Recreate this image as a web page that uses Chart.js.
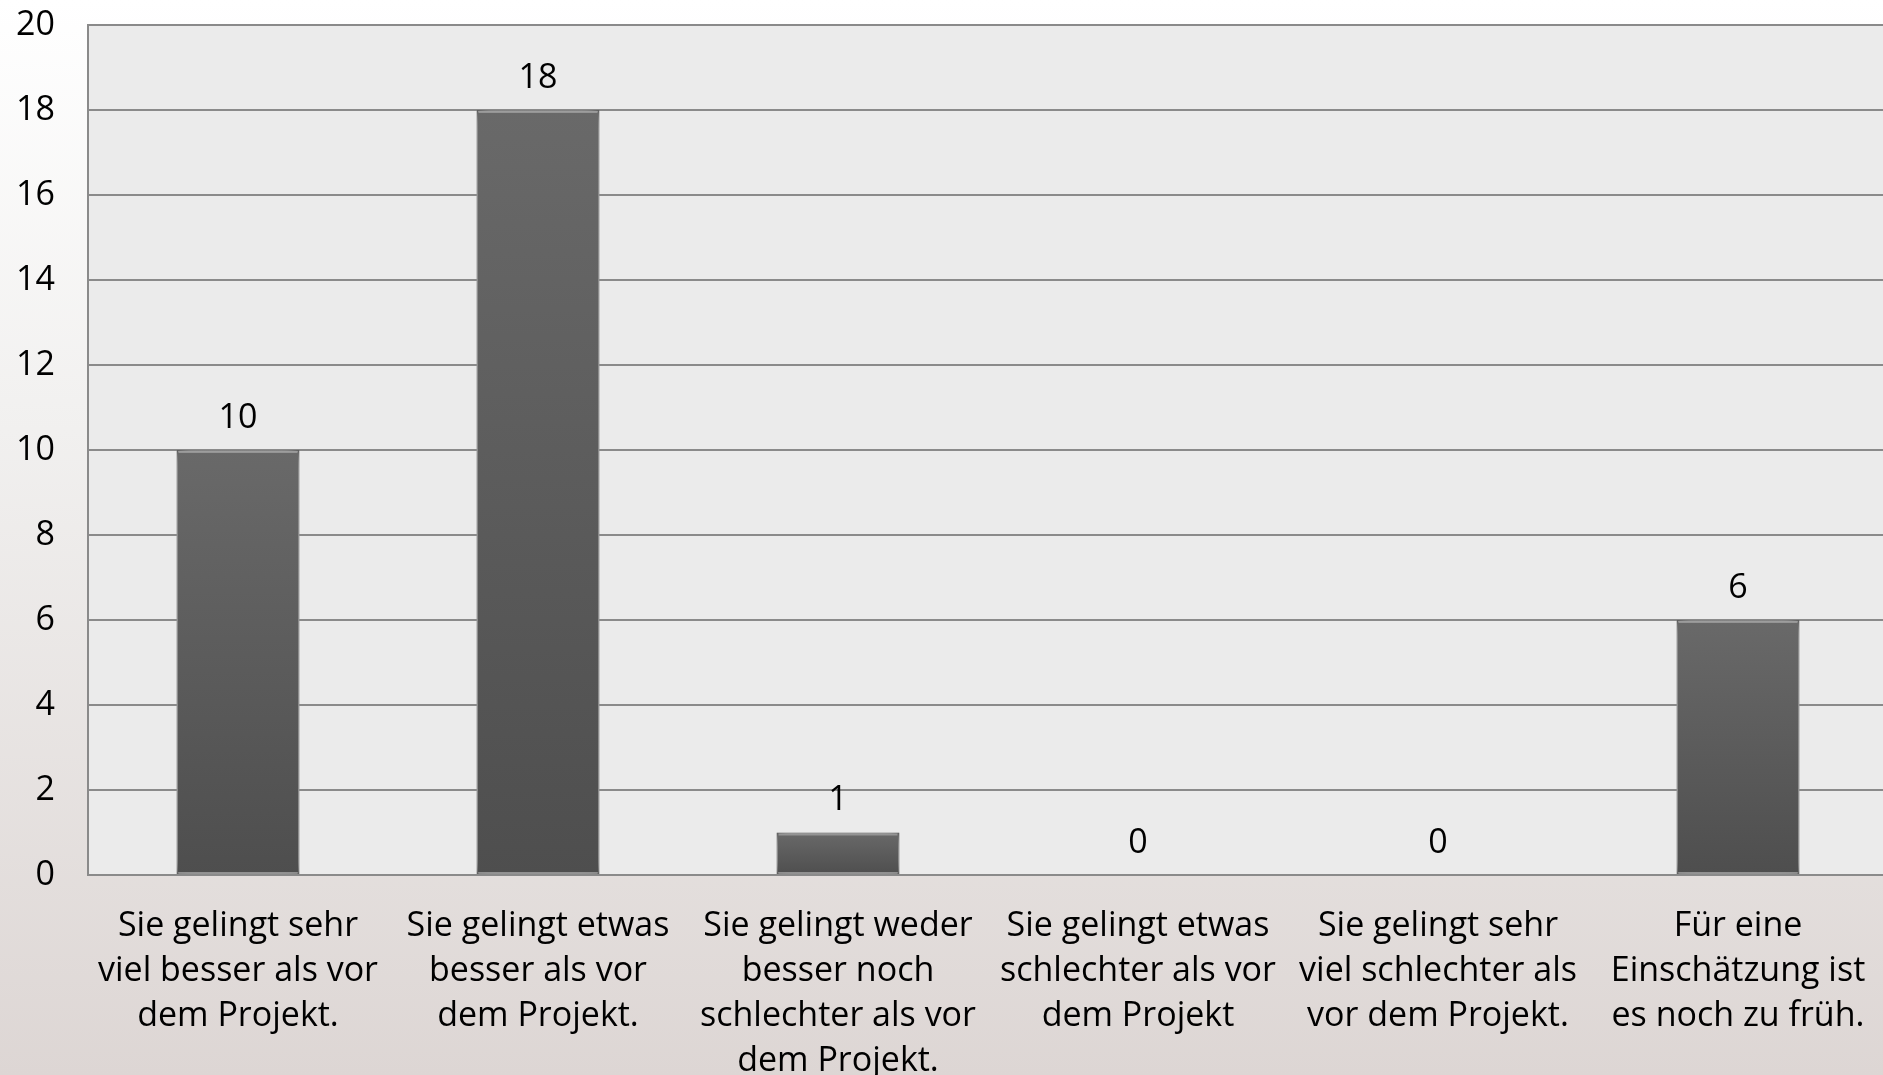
<!DOCTYPE html>
<html>
<head>
<meta charset="utf-8">
<script src="https://cdn.jsdelivr.net/npm/chart.js@4.4.1/dist/chart.umd.min.js"></script>
<style>
  html, body { margin: 0; padding: 0; overflow: hidden; }
  body {
    width: 1883px; height: 1075px;
    background: linear-gradient(to bottom, #ffffff 0%, #f1f0ef 40%, #ddd6d4 100%);
  }
  #wrap { width: 1888px; height: 1075px; }
</style>
</head>
<body>
<div id="wrap"><canvas id="chart" width="1888" height="1075"></canvas></div>
<script>
// Antworten zur Frage: Wie gelingt die Zusammenarbeit heute?
const categories = [
  ['Sie gelingt sehr', 'viel besser als vor', 'dem Projekt.'],
  ['Sie gelingt etwas', 'besser als vor', 'dem Projekt.'],
  ['Sie gelingt weder', 'besser noch', 'schlechter als vor', 'dem Projekt.'],
  ['Sie gelingt etwas', 'schlechter als vor', 'dem Projekt'],
  ['Sie gelingt sehr', 'viel schlechter als', 'vor dem Projekt.'],
  ['Für eine', 'Einschätzung ist', 'es noch zu früh.']
];
const counts = [10, 18, 1, 0, 0, 6];
const yTicks = [0, 2, 4, 6, 8, 10, 12, 14, 16, 18, 20];

const FONT = { family: '"Open Sans", sans-serif', size: 34, lineHeight: 45 / 34 };

// grey plot panel behind the grid
const plotBackground = {
  id: 'plotBackground',
  beforeDraw(chart) {
    const { ctx, chartArea: a } = chart;
    ctx.save();
    ctx.fillStyle = '#ebebeb';
    ctx.fillRect(a.left, a.top, a.right - a.left, a.bottom - a.top);
    ctx.restore();
  }
};

// soft glow around the columns, highlight on their top edge, value above
const barDecor = {
  id: 'barDecor',
  beforeDatasetsDraw(chart) {
    const ctx = chart.ctx;
    ctx.save();
    ctx.shadowColor = 'rgba(225,225,225,1)';
    ctx.shadowBlur = 14;
  },
  afterDatasetsDraw(chart) {
    const ctx = chart.ctx;
    ctx.restore();
    const meta = chart.getDatasetMeta(0);
    ctx.save();
    meta.data.forEach((bar, i) => {
      const w = bar.width;
      const left = bar.x - w / 2;
      const h = bar.base - bar.y;
      if (h > 4) {
        ctx.fillStyle = 'rgba(160,160,160,0.8)';
        ctx.fillRect(left + 2, bar.y + 1, w - 4, 2);
        ctx.fillStyle = 'rgba(150,150,150,0.7)';
        ctx.fillRect(left + 2, bar.base - 2, w - 4, 2);
      }
      ctx.fillStyle = '#000';
      ctx.font = `${FONT.size}px ${FONT.family}`;
      ctx.textAlign = 'center';
      ctx.textBaseline = 'middle';
      ctx.fillText(String(counts[i]), bar.x, bar.y - 32);
    });
    ctx.restore();
  }
};

function barGradient(context) {
  const chart = context.chart;
  const y = chart.scales.y;
  if (!y || !chart.chartArea) return '#5b5b5b';
  const top = y.getPixelForValue(context.raw);
  const base = y.getPixelForValue(0);
  if (!isFinite(top) || !isFinite(base) || base - top < 1) return '#5b5b5b';
  const g = chart.ctx.createLinearGradient(0, top, 0, base);
  g.addColorStop(0, '#696969');
  g.addColorStop(1, '#4e4e4e');
  return g;
}

Chart.defaults.font.family = FONT.family;
Chart.defaults.color = '#000';

new Chart(document.getElementById('chart'), {
  type: 'bar',
  data: {
    labels: categories,
    datasets: [{
      data: counts,
      backgroundColor: barGradient,
      borderColor: '#3f3f3f',
      borderWidth: 1.5,
      borderSkipped: false,
      barPercentage: 0.41,
      categoryPercentage: 1.0
    }]
  },
  options: {
    responsive: false,
    devicePixelRatio: 1,
    animation: false,
    layout: { padding: { top: 25, right: 0, left: 0, bottom: 0 } },
    plugins: { legend: { display: false }, tooltip: { enabled: false } },
    scales: {
      x: {
        grid: { display: false, drawTicks: false },
        border: { display: true, color: '#8a8a8a', width: 2 },
        ticks: { font: FONT, padding: 29, maxRotation: 0, autoSkip: false, color: '#000' },
        afterFit(scale) {
          scale.height = 200;
          scale.paddingLeft = 0;
          scale.paddingRight = 0;
        }
      },
      y: {
        min: 0,
        max: 20,
        afterBuildTicks(scale) { scale.ticks = yTicks.map(v => ({ value: v })); },
        grid: { color: '#8a8a8a', lineWidth: 2, drawTicks: false },
        border: { display: true, color: '#8a8a8a', width: 2 },
        ticks: { font: FONT, padding: 33, color: '#000' },
        afterFit(scale) {
          scale.width = 88;
          scale.paddingTop = 0;
          scale.paddingBottom = 0;
        }
      }
    }
  },
  plugins: [plotBackground, barDecor]
});
</script>
</body>
</html>
